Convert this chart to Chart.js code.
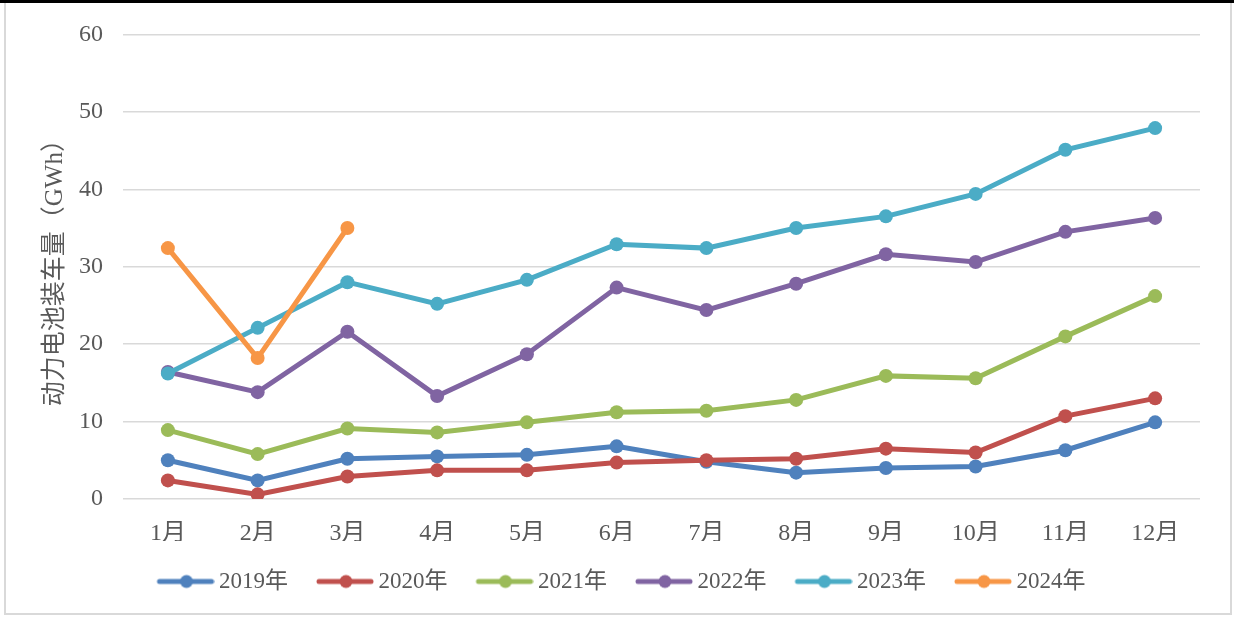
<!DOCTYPE html>
<html>
<head>
<meta charset="utf-8">
<script src="https://cdn.jsdelivr.net/npm/chart.js@4"></script>
<style>
  body { margin: 0; background: #fff; }
  .topline { position: absolute; left: 0; top: 0; width: 1234px; height: 3px; background: #000; }
  .frame { position: absolute; left: 4px; top: 3px; width: 1224px; height: 610px; border: 2px solid #d9d9d9; border-top: none; }
  #grafico { position: absolute; left: 0; top: 0; }
</style>
</head>
<body>
<div class="topline"></div>
<div class="frame"></div>
<canvas id="grafico" width="1234" height="617"></canvas>
<script>
const meses = ["1月", "2月", "3月", "4月", "5月", "6月", "7月", "8月", "9月", "10月", "11月", "12月"];
const anios = ["2019年", "2020年", "2021年", "2022年", "2023年", "2024年"];
const v2019 = [5.0, 2.4, 5.2, 5.5, 5.7, 6.8, 4.8, 3.4, 4.0, 4.2, 6.3, 9.9];
const v2020 = [2.4, 0.6, 2.9, 3.7, 3.7, 4.7, 5.0, 5.2, 6.5, 6.0, 10.7, 13.0];
const v2021 = [8.9, 5.8, 9.1, 8.6, 9.9, 11.2, 11.4, 12.8, 15.9, 15.6, 21.0, 26.2];
const v2022 = [16.4, 13.8, 21.6, 13.3, 18.7, 27.3, 24.4, 27.8, 31.6, 30.6, 34.5, 36.3];
const v2023 = [16.2, 22.1, 28.0, 25.2, 28.3, 32.9, 32.4, 35.0, 36.5, 39.4, 45.1, 47.9];
const v2024 = [32.4, 18.2, 35.0];
const colores = ["#4f81bd", "#c0504d", "#9bbb59", "#8064a2", "#4bacc6", "#f79646"];

const serie = [v2019, v2020, v2021, v2022, v2023, v2024];
const fuente = "'Liberation Serif', 'Noto Sans CJK SC', serif";

// icono de leyenda: linea con punto
function iconoLeyenda(color) {
  const c = document.createElement("canvas");
  c.width = 64;
  c.height = 16;
  const ctx = c.getContext("2d");
  ctx.strokeStyle = color;
  ctx.lineWidth = 5;
  ctx.lineCap = "round";
  ctx.beginPath();
  ctx.moveTo(9, 8);
  ctx.lineTo(61, 8);
  ctx.stroke();
  ctx.fillStyle = color;
  ctx.beginPath();
  ctx.arc(36, 8, 6.5, 0, Math.PI * 2);
  ctx.fill();
  return c;
}

const datasets = serie.map((datos, i) => ({
  label: anios[i],
  data: datos,
  borderColor: colores[i],
  backgroundColor: colores[i],
  borderWidth: 5,
  pointRadius: 7,
  pointHoverRadius: 7,
  pointBorderWidth: 0,
  tension: 0,
  order: 6 - i, // los ultimos encima
}));

new Chart(document.getElementById("grafico"), {
  type: "line",
  data: { labels: meses, datasets: datasets },
  options: {
    responsive: false,
    animation: false,
    devicePixelRatio: 1,
    layout: { padding: { left: 9, right: 0, top: 34, bottom: 14 } },
    plugins: {
      tooltip: { enabled: false },
      legend: {
        position: "bottom",
        labels: {
          usePointStyle: true,
          pointStyleWidth: 50,
          padding: 29,
          color: "#595959",
          font: { family: fuente, size: 23 },
          sort: (a, b) => a.datasetIndex - b.datasetIndex,
          generateLabels: (chart) =>
            chart.data.datasets.map((ds, i) => ({
              text: ds.label,
              fillStyle: ds.borderColor,
              strokeStyle: ds.borderColor,
              fontColor: "#595959",
              lineWidth: 0,
              pointStyle: iconoLeyenda(ds.borderColor),
              datasetIndex: i,
              hidden: false,
            })),
        },
      },
    },
    scales: {
      x: {
        offset: true,
        grid: { display: false, offset: true },
        border: { display: false },
        ticks: { color: "#595959", font: { family: fuente, size: 24 }, padding: 12, maxRotation: 0 },
        afterFit: (s) => { s.height = 42; },
      },
      y: {
        min: 0,
        max: 60,
        grid: { color: "#d9d9d9", lineWidth: 1.5, drawTicks: false },
        border: { display: false },
        ticks: { stepSize: 10, color: "#595959", font: { family: fuente, size: 24 }, padding: 20 },
        title: {
          display: true,
          text: "动力电池装车量（GWh）",
          color: "#595959",
          font: { family: fuente, size: 25 },
          padding: { top: 31, bottom: 0 },
        },
        afterFit: (s) => { s.width = 114; },
      },
      derecha: {
        position: "right",
        display: true,
        grid: { display: false },
        border: { display: false },
        ticks: { display: false },
        afterFit: (s) => { s.width = 34; },
      },
    },
  },
});
</script>
</body>
</html>
